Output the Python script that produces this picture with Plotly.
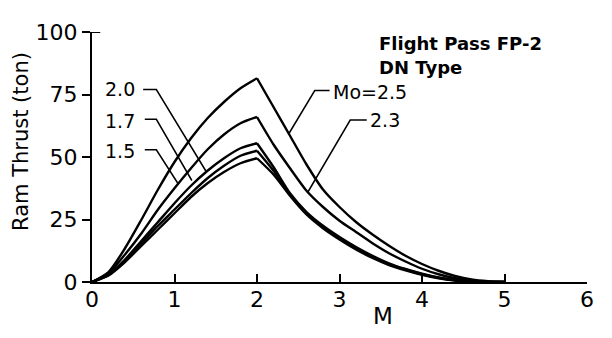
import plotly.graph_objects as go

# Mach number grids (rising branch to M=2, falling branch after M=2)
M_rise = [0.0, 0.2, 0.4, 0.6, 0.8, 1.0, 1.2, 1.4, 1.6, 1.8, 2.0]
M_fall = [2.0, 2.2, 2.4, 2.6, 2.8, 3.0, 3.2, 3.4, 3.6, 3.8, 4.0, 4.2, 4.4, 4.6, 4.8, 5.0]

# Ram thrust (ton) for each flight Mach number Mo
T_25_rise = [0, 4, 13.5, 25, 37, 48, 57.5, 65.5, 72, 77.5, 81.5]
T_25_fall = [81.5, 70, 58.5, 47, 37, 30, 24, 19, 14.5, 10.5, 7.2, 4.5, 2.4, 1.0, 0.3, 0]
T_23_rise = [0, 3.5, 11, 19.5, 29, 37.5, 45.5, 53, 59, 63.5, 66]
T_23_fall = [66, 55, 45.5, 36.5, 30, 24.5, 20, 15.5, 11.5, 8.2, 5.3, 3.1, 1.5, 0.5, 0.1, 0]
T_20_rise = [0, 3, 9, 16.5, 24, 31.5, 38.5, 44.5, 49.5, 53.5, 55.5]
T_20_fall = [55.5, 46, 35.5, 28, 22.5, 18, 14, 10.5, 7.5, 5.2, 3.3, 1.8, 0.8, 0.2, 0, 0]
T_17_rise = [0, 2.8, 8.5, 15.5, 22.5, 29, 35.5, 41.5, 46.5, 50.5, 52.5]
T_17_fall = [52.5, 44.5, 35, 27.5, 22, 17.5, 13.5, 10, 7.2, 5, 3.1, 1.7, 0.7, 0.2, 0, 0]
T_15_rise = [0, 2.6, 8, 14.5, 21, 27.5, 34, 39.5, 44, 47.5, 49.5]
T_15_fall = [49.5, 43, 34.5, 27, 21.5, 17, 13, 9.6, 6.8, 4.7, 2.9, 1.5, 0.6, 0.1, 0, 0]

series = [
    ("2.5", T_25_rise, T_25_fall),
    ("2.3", T_23_rise, T_23_fall),
    ("2.0", T_20_rise, T_20_fall),
    ("1.7", T_17_rise, T_17_fall),
    ("1.5", T_15_rise, T_15_fall),
]

x_ticks = [0, 1, 2, 3, 4, 5, 6]
y_ticks = [0, 25, 50, 75, 100]

FONT = "DejaVu Sans"
fig = go.Figure()
for name, rise, fall in series:
    for xs, ys in ((M_rise, rise), (M_fall, fall)):
        fig.add_trace(go.Scatter(
            x=xs, y=ys, mode="lines", name="Mo=" + name, showlegend=False,
            line=dict(color="black", width=2.4, shape="spline", smoothing=0.7),
            hoverinfo="skip"))

# leader lines for curve labels
leaders = [
    ([0.62, 0.78, 1.38], [77, 77, 44.4]),
    ([0.64, 0.78, 1.21], [65.1, 65.1, 40.6]),
    ([0.64, 0.78, 1.04], [52.9, 52.9, 39.5]),
    ([2.88, 2.70, 2.38], [76.6, 76.6, 59.0]),
    ([3.33, 3.13, 2.61], [64.8, 64.8, 35.6]),
]
for lx, ly in leaders:
    fig.add_trace(go.Scatter(x=lx, y=ly, mode="lines", showlegend=False,
                             line=dict(color="black", width=1.5), hoverinfo="skip"))

lab_font = dict(family=FONT, size=19, color="black")
anns = [
    dict(x=0.55, y=77.2, text="2.0", xanchor="right"),
    dict(x=0.55, y=64.6, text="1.7", xanchor="right"),
    dict(x=0.55, y=52.3, text="1.5", xanchor="right"),
    dict(x=2.9, y=76.2, text="Mo=2.5", xanchor="left"),
    dict(x=3.35, y=64.7, text="2.3", xanchor="left"),
]
for a in anns:
    fig.add_annotation(xref="x", yref="y", showarrow=False, yanchor="middle",
                       font=lab_font, **a)

fig.add_annotation(x=3.45, y=95.4, xref="x", yref="y", text="Flight Pass FP-2",
                   showarrow=False, xanchor="left", yanchor="middle",
                   font=dict(family=FONT, size=18, color="black", weight="bold"))
fig.add_annotation(x=3.45, y=85.8, xref="x", yref="y", text="DN Type",
                   showarrow=False, xanchor="left", yanchor="middle",
                   font=dict(family=FONT, size=18, color="black", weight="bold"))
fig.add_annotation(x=3.53, y=-0.134, xref="x", yref="paper", text="M",
                   showarrow=False, xanchor="center", yanchor="middle",
                   font=dict(family=FONT, size=23, color="black"))
fig.add_annotation(x=-0.142, y=0.563, xref="paper", yref="paper", text="Ram Thrust (ton)",
                   showarrow=False, textangle=-90, xanchor="center", yanchor="middle",
                   font=dict(family=FONT, size=21, color="black"))
# small stub at top of y axis
fig.add_shape(type="line", xref="x", yref="y", x0=0, x1=0.1, y0=100, y1=100,
              line=dict(color="black", width=2))

# page body has an 8px margin; size the figure so the plot area lands where the reference has it
fig.update_layout(
    width=604, height=330,
    margin=dict(l=84, r=25, t=13, b=56),
    paper_bgcolor="white", plot_bgcolor="white",
    showlegend=False,
)
fig.update_xaxes(range=[0, 6], tickvals=x_ticks, ticktext=[str(v) for v in x_ticks],
                 showgrid=False, zeroline=False, showline=True, linecolor="black",
                 linewidth=2, ticks="inside", ticklen=8, tickwidth=2, tickcolor="black",
                 ticklabelstandoff=-3,
                 tickfont=dict(family=FONT, size=22, color="black"))
fig.update_yaxes(range=[0, 100], tickvals=y_ticks, ticktext=[str(v) for v in y_ticks],
                 showgrid=False, zeroline=False, showline=True, linecolor="black",
                 linewidth=2, ticks="outside", ticklen=8, tickwidth=2, tickcolor="black",
                 tickfont=dict(family=FONT, size=22, color="black"))

fig.write_html("out.html")
